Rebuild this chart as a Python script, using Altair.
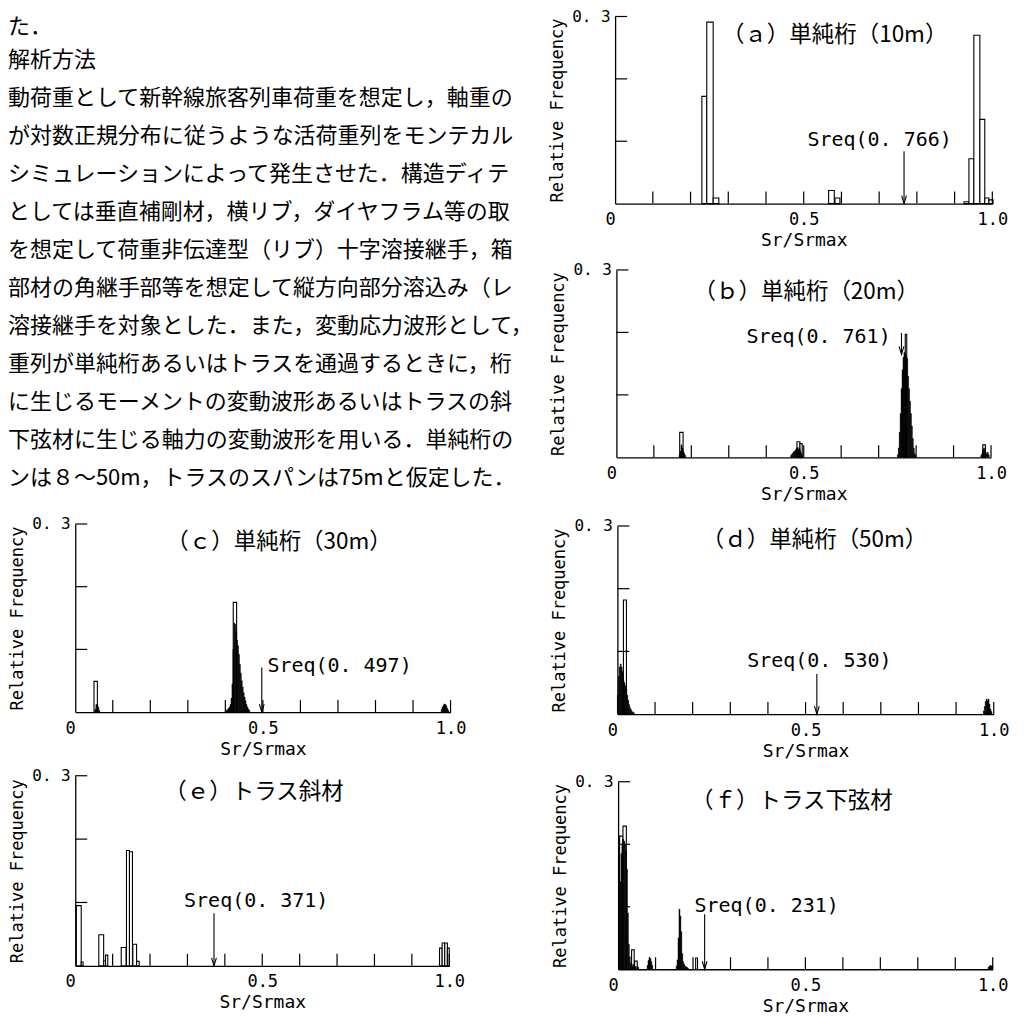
import altair as alt
import pandas as pd

MONO = "DejaVu Sans Mono"
JP = "Noto Sans CJK JP"

# ---------------- body text (left top) ----------------
text_lines = [
    "た．",
    "解析方法",
    "動荷重として新幹線旅客列車荷重を想定し，軸重の",
    "が対数正規分布に従うような活荷重列をモンテカル",
    "シミュレーションによって発生させた．構造ディテ",
    "としては垂直補剛材，横リブ，ダイヤフラム等の取",
    "を想定して荷重非伝達型（リブ）十字溶接継手，箱",
    "部材の角継手部等を想定して縦方向部分溶込み（レ",
    "溶接継手を対象とした．また，変動応力波形として，",
    "重列が単純桁あるいはトラスを通過するときに，桁",
    "に生じるモーメントの変動波形あるいはトラスの斜",
    "下弦材に生じる軸力の変動波形を用いる．単純桁の",
    "ンは８～50m，トラスのスパンは75mと仮定した．",
]

# ---------------- axis values ----------------
x_tick_values = [0.1, 0.2, 0.3, 0.4, 0.5, 0.6, 0.7, 0.8, 0.9, 1.0]
y_tick_values = [0.1, 0.2, 0.3]
x_label_values = [0, 0.5, 1.0]
y_label_values = [0.3]

panel_titles = ["（ａ）単純桁（10m）", "（ｂ）単純桁（20m）", "（ｃ）単純桁（30m）",
                "（ｄ）単純桁（50m）", "（ｅ）トラス斜材", "（ｆ）トラス下弦材"]
sreq_values = [0.766, 0.761, 0.497, 0.530, 0.371, 0.231]
arrow_top = [0.084, 0.199, 0.071, 0.064, 0.083, 0.088]
arrow_bottom = [0.0, 0.165, 0.0, 0.0, 0.0, 0.0]
sreq_label_x = [0.510, 0.347, 0.512, 0.345, 0.291, 0.204]
sreq_label_y = [0.1025, 0.193, 0.073, 0.084, 0.102, 0.101]
title_x = [0.582, 0.507, 0.543, 0.524, 0.478, 0.464]
title_y = [0.271, 0.264, 0.272, 0.278, 0.275, 0.269]

DENSE_BIN = 0.0025

# ---------------- (a) ----------------
a_open_x0 = [0.230, 0.243, 0.260, 0.566, 0.583, 0.925, 0.938, 0.951, 0.967, 0.980, 0.991]
a_open_x1 = [0.243, 0.260, 0.275, 0.581, 0.596, 0.938, 0.951, 0.967, 0.980, 0.991, 1.002]
a_open_h = [0.172, 0.291, 0.009, 0.021, 0.009, 0.003, 0.072, 0.270, 0.135, 0.009, 0.006]
a_solid_x = []
a_solid_h = []

# ---------------- (b) ----------------
b_open_x0 = [0.169, 0.482, 0.490, 0.771, 0.978]
b_open_x1 = [0.178, 0.490, 0.496, 0.775, 0.985]
b_open_h = [0.040, 0.025, 0.022, 0.197, 0.020]
b_solid_x = [0.1675, 0.170, 0.1725, 0.175, 0.1775, 0.180, 0.1825,
             0.465, 0.4675, 0.470, 0.4725, 0.475, 0.4775, 0.480, 0.4825, 0.485, 0.4875, 0.490, 0.4925, 0.495,
             0.750, 0.7525, 0.755, 0.7575, 0.760, 0.7625, 0.765, 0.7675, 0.770, 0.7725, 0.775, 0.7775,
             0.780, 0.7825, 0.785, 0.7875, 0.790, 0.7925, 0.795, 0.7975,
             0.9725, 0.975, 0.9775, 0.980, 0.9825, 0.985, 0.9875, 0.990, 0.9925]
b_solid_h = [0.004, 0.010, 0.020, 0.015, 0.010, 0.006, 0.003,
             0.003, 0.005, 0.007, 0.009, 0.010, 0.012, 0.014, 0.016, 0.013, 0.015, 0.010, 0.006, 0.003,
             0.004, 0.015, 0.040, 0.070, 0.110, 0.140, 0.160, 0.168, 0.166, 0.162, 0.158, 0.130,
             0.110, 0.090, 0.070, 0.050, 0.030, 0.015, 0.006, 0.003,
             0.003, 0.006, 0.012, 0.015, 0.012, 0.008, 0.005, 0.008, 0.004]

# ---------------- (c) ----------------
c_open_x0 = [0.050, 0.421]
c_open_x1 = [0.059, 0.430]
c_open_h = [0.049, 0.175]
c_solid_x = [0.0525, 0.055, 0.0575, 0.060, 0.0625,
             0.400, 0.4025, 0.405, 0.4075, 0.410, 0.4125, 0.415, 0.4175, 0.420, 0.4225, 0.425, 0.4275,
             0.430, 0.4325, 0.435, 0.4375, 0.440, 0.4425, 0.445, 0.4475, 0.450, 0.4525, 0.455, 0.4575,
             0.460, 0.4625,
             0.975, 0.9775, 0.980, 0.9825, 0.985, 0.9875, 0.990, 0.9925]
c_solid_h = [0.005, 0.012, 0.012, 0.008, 0.003,
             0.002, 0.003, 0.004, 0.006, 0.008, 0.012, 0.022, 0.045, 0.100, 0.142, 0.140, 0.128,
             0.115, 0.106, 0.092, 0.076, 0.062, 0.050, 0.040, 0.031, 0.024, 0.018, 0.012, 0.008,
             0.005, 0.003,
             0.004, 0.008, 0.011, 0.013, 0.012, 0.010, 0.006, 0.003]

# ---------------- (d) ----------------
d_open_x0 = [0.016]
d_open_x1 = [0.024]
d_open_h = [0.182]
d_solid_x = [0.000, 0.0025, 0.005, 0.0075, 0.010, 0.0125, 0.015, 0.0175, 0.020, 0.0225, 0.025,
             0.0275, 0.030, 0.0325, 0.035, 0.0375, 0.040, 0.0425,
             0.9725, 0.975, 0.9775, 0.980, 0.9825, 0.985, 0.9875, 0.990, 0.9925]
d_solid_h = [0.030, 0.060, 0.075, 0.080, 0.075, 0.068, 0.055, 0.050, 0.045, 0.040, 0.030,
             0.022, 0.015, 0.010, 0.007, 0.004, 0.003, 0.002,
             0.005, 0.012, 0.020, 0.024, 0.021, 0.024, 0.016, 0.008, 0.004]

# ---------------- (e) ----------------
e_open_x0 = [0.003, 0.016, 0.063, 0.076, 0.081, 0.123, 0.137, 0.145, 0.154, 0.164, 0.974, 0.981, 0.988, 0.995]
e_open_x1 = [0.016, 0.021, 0.076, 0.081, 0.087, 0.136, 0.145, 0.153, 0.164, 0.171, 0.981, 0.988, 0.995, 1.000]
e_open_h = [0.095, 0.006, 0.049, 0.008, 0.017, 0.029, 0.182, 0.180, 0.034, 0.007, 0.028, 0.036, 0.036, 0.028]
e_solid_x = []
e_solid_h = []

# ---------------- (f) ----------------
f_open_x0 = [0.004, 0.013, 0.036, 0.044, 0.207]
f_open_x1 = [0.013, 0.022, 0.043, 0.051, 0.212]
f_open_h = [0.213, 0.229, 0.031, 0.013, 0.018]
f_solid_x = [0.0025, 0.005, 0.0075, 0.010, 0.0125, 0.015, 0.0175, 0.020, 0.0225, 0.025, 0.0275,
             0.030, 0.0325, 0.035, 0.0375, 0.040, 0.0425, 0.045, 0.050, 0.0525,
             0.0775, 0.080, 0.0825, 0.085, 0.0875, 0.090,
             0.155, 0.1575, 0.160, 0.1625, 0.165, 0.1675, 0.170, 0.1725, 0.175, 0.1775, 0.180, 0.1825, 0.185,
             0.9875, 0.990, 0.9925, 0.995, 0.9975]
f_solid_h = [0.050, 0.140, 0.185, 0.200, 0.208, 0.205, 0.200, 0.190, 0.160, 0.090, 0.040,
             0.020, 0.010, 0.008, 0.005, 0.008, 0.005, 0.004, 0.005, 0.003,
             0.006, 0.014, 0.019, 0.017, 0.012, 0.006,
             0.005, 0.015, 0.050, 0.096, 0.085, 0.060, 0.025, 0.012, 0.008, 0.005, 0.004, 0.003, 0.002,
             0.003, 0.005, 0.006, 0.005, 0.006]

PANEL_DATA = {
    "a": (a_open_x0, a_open_x1, a_open_h, a_solid_x, a_solid_h),
    "b": (b_open_x0, b_open_x1, b_open_h, b_solid_x, b_solid_h),
    "c": (c_open_x0, c_open_x1, c_open_h, c_solid_x, c_solid_h),
    "d": (d_open_x0, d_open_x1, d_open_h, d_solid_x, d_solid_h),
    "e": (e_open_x0, e_open_x1, e_open_h, e_solid_x, e_solid_h),
    "f": (f_open_x0, f_open_x1, f_open_h, f_solid_x, f_solid_h),
}

# layout of each cell (pixels): cell size, plot x-range, plot y-range (baseline, top)
GEOM = {
    "a": dict(w=500, h=254, xr=(98.7, 476.3), yr=(194.3, 7.0)),
    "b": dict(w=500, h=254, xr=(100.0, 475.0), yr=(194.3, 6.7)),
    "c": dict(w=509, h=254, xr=(67.3, 443.0), yr=(195.3, 7.0)),
    "d": dict(w=500, h=254, xr=(101.0, 477.7), yr=(197.3, 9.0)),
    "e": dict(w=509, h=246, xr=(67.3, 441.7), yr=(195.3, 5.0)),
    "f": dict(w=500, h=246, xr=(101.7, 476.7), yr=(198.7, 11.0)),
}

ARROW = "M-0.6,-2L0,0L0.6,-2"


def panel(i, key):
    g = GEOM[key]
    w, h, xr, yr = g["w"], g["h"], g["xr"], g["yr"]
    ox0, ox1, oh, sx, sh = PANEL_DATA[key]
    xs = alt.Scale(domain=[0, 1], range=list(xr), nice=False, zero=False)
    ys = alt.Scale(domain=[0, 0.3], range=list(yr), nice=False, zero=False)
    xax = alt.Axis(
        values=x_label_values,
        labelExpr="datum.value == 0 ? '0' : format(datum.value, '.1f')",
        ticks=False, tickSize=0, grid=False, offset=yr[0] - h,
        domainColor="black", domainWidth=1.3,
        labelFont=MONO, labelFontSize=17, labelColor="black",
        labelPadding=16, labelBaseline="middle", labelFlush=False, labelOverlap=False,
        labelAlign={"condition": {"test": "datum.value == 0", "value": "right"}, "value": "center"},
        title="Sr/Srmax", titleFont=MONO, titleFontSize=18, titleFontWeight="normal",
        titleColor="black", titleX=(xr[0] + xr[1]) / 2, titleY=37,
        titleBaseline="middle", titleAlign="center",
    )
    yax = alt.Axis(
        values=y_label_values,
        labelExpr="replace(format(datum.value, '.1f'), '.', '. ')",
        ticks=False, tickSize=0, grid=False, offset=-xr[0],
        domainColor="black", domainWidth=1.3,
        labelFont=MONO, labelFontSize=16, labelColor="black",
        labelPadding=5, labelBaseline="middle", labelOverlap=False,
        title="Relative Frequency", titleFont=MONO, titleFontSize=17, titleFontWeight="normal",
        titleColor="black", titleX=-49, titleY=(yr[0] + yr[1]) / 2, titleAngle=270,
        titleBaseline="bottom", titleAlign="center",
    )

    def X(f):
        return alt.X(f, type="quantitative", scale=xs, axis=xax)

    def Y(f):
        return alt.Y(f, type="quantitative", scale=ys, axis=yax)

    layers = []
    if ox0:
        df = pd.DataFrame({"x0": ox0, "x1": ox1, "h": oh})
        df["z"] = 0.0
        layers.append(alt.Chart(df).mark_rect(fill="white", stroke="black", strokeWidth=1.1).encode(
            x=X("x0"), x2="x1", y=Y("h"), y2="z"))
    if sx:
        df = pd.DataFrame({"x0": sx, "h": sh})
        df["x1"] = df["x0"] + DENSE_BIN
        df["z"] = 0.0
        layers.append(alt.Chart(df).mark_rect(fill="black", stroke="black", strokeWidth=0.5).encode(
            x=X("x0"), x2="x1", y=Y("h"), y2="z"))
    layers.append(alt.Chart(pd.DataFrame({"t": x_tick_values})).mark_rule(color="black", strokeWidth=1.2).encode(
        x=X("t"), y=alt.value(yr[0]), y2=alt.value(yr[0] - 12)))
    layers.append(alt.Chart(pd.DataFrame({"t": y_tick_values})).mark_rule(color="black", strokeWidth=1.2).encode(
        y=Y("t"), x=alt.value(xr[0]), x2=alt.value(xr[0] + 12)))
    adf = pd.DataFrame({"s": [sreq_values[i]], "top": [arrow_top[i]], "bot": [arrow_bottom[i]]})
    layers.append(alt.Chart(adf).mark_rule(color="black", strokeWidth=1.1).encode(
        x=X("s"), y=Y("top"), y2="bot"))
    layers.append(alt.Chart(adf).mark_point(shape=ARROW, filled=False, size=64, color="black",
                                            strokeWidth=1.1, opacity=1).encode(x=X("s"), y=Y("bot")))
    v = sreq_values[i]
    ldf = pd.DataFrame({"lx": [sreq_label_x[i]], "ly": [sreq_label_y[i]],
                        "lab": ["Sreq(0. %03d)" % round(v * 1000)]})
    layers.append(alt.Chart(ldf).mark_text(align="left", baseline="middle", font=MONO, fontSize=20,
                                           color="black").encode(x=X("lx"), y=Y("ly"), text="lab:N"))
    tdf = pd.DataFrame({"tx": [title_x[i]], "ty": [title_y[i]], "title": [panel_titles[i]]})
    layers.append(alt.Chart(tdf).mark_text(align="center", baseline="middle", font=JP, fontSize=22.5,
                                           color="black").encode(x=X("tx"), y=Y("ty"), text="title:N"))
    return alt.layer(*layers).properties(width=w, height=h)


def text_layer(idx, scale, dy=0):
    df = pd.DataFrame({"line": idx, "text": [text_lines[k] for k in idx]})
    return alt.Chart(df).mark_text(align="left", baseline="middle", font=JP, fontSize=22,
                                   color="black", dy=dy).encode(
        x=alt.value(0),
        y=alt.Y("line:Q", scale=scale, axis=None),
        text="text:N",
    )


top_scale = alt.Scale(domain=[0, 6], range=[12.0, 240.6], nice=False, zero=False)
bottom_scale = alt.Scale(domain=[7, 12], range=[24.7, 215.2], nice=False, zero=False)

text_top = alt.layer(
    text_layer([0], top_scale, dy=6),
    text_layer([1, 2, 3, 4, 5, 6], top_scale),
).properties(width=509, height=254)
text_bottom = text_layer([7, 8, 9, 10, 11, 12], bottom_scale).properties(width=509, height=254)

pa, pb, pc, pd_, pe, pf = [panel(i, k) for i, k in enumerate(["a", "b", "c", "d", "e", "f"])]

chart = alt.concat(
    text_top, pa,
    text_bottom, pb,
    pc, pd_,
    pe, pf,
    columns=2, spacing=0, bounds="flush", align="each",
).properties(padding=0).configure_view(stroke=None)

chart.save("out.html", embed_options={"renderer": "svg", "actions": False})
